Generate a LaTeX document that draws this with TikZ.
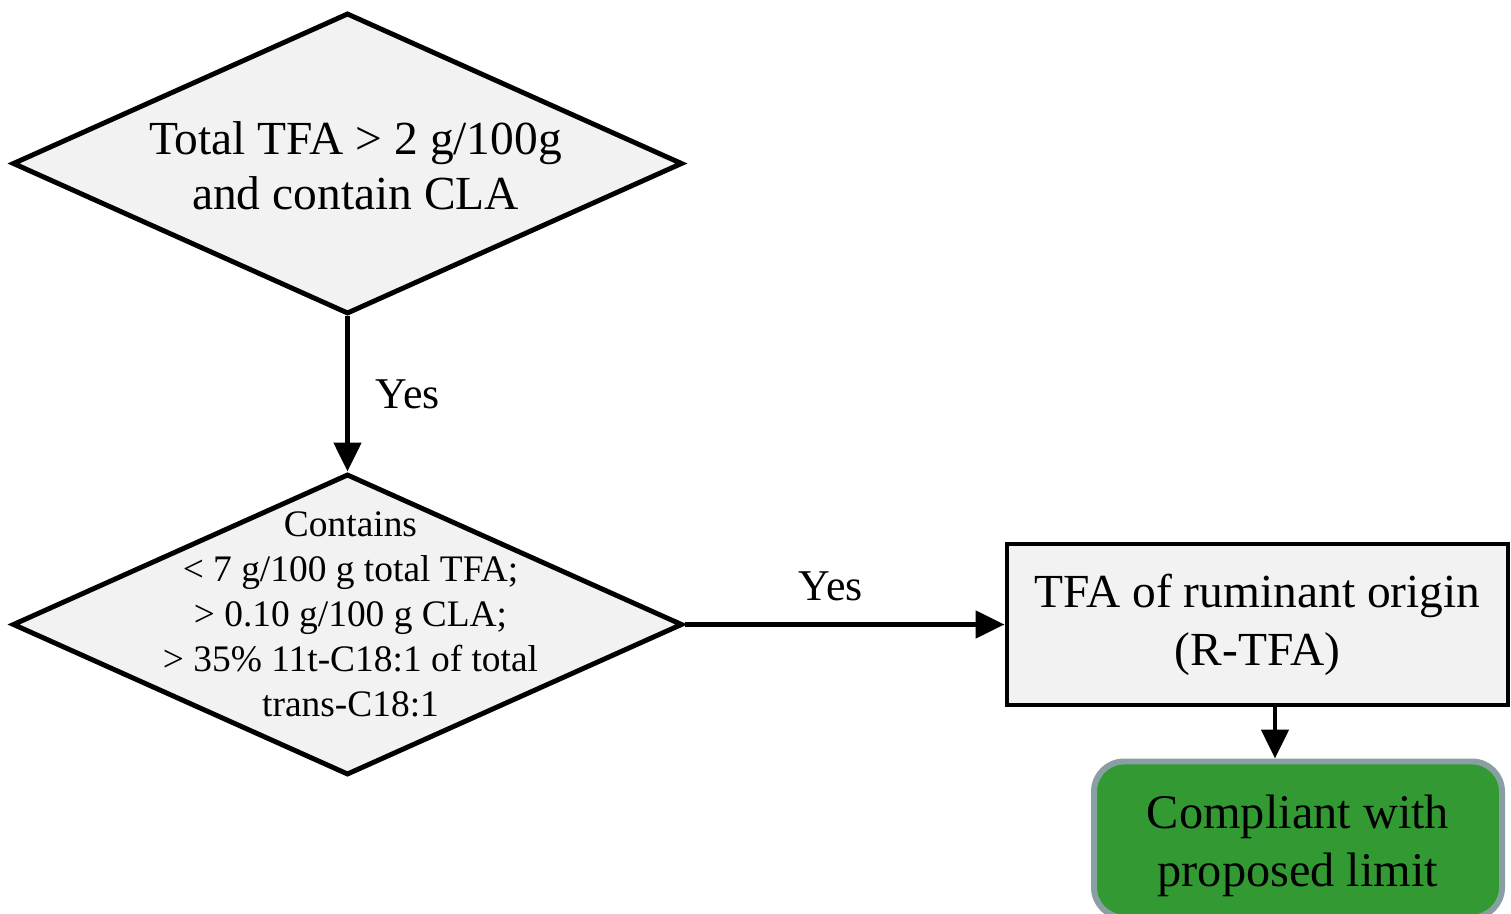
\documentclass[tikz,border=0pt]{standalone}
\usepackage{fontspec}
\setmainfont{Liberation Serif}
\usetikzlibrary{shapes.geometric, arrows.meta, positioning}
\definecolor{boxgray}{HTML}{F2F2F2}
\definecolor{okgreen}{HTML}{339933}
\definecolor{okedge}{HTML}{8A9FA4}
\tikzstyle{decision} = [diamond, draw=black, line width=2.8pt, fill=boxgray, minimum width=13.4cm, minimum height=6.02cm, inner sep=0pt]
\tikzstyle{bigtext} = [align=center, font=\fontsize{27}{31.5}\selectfont]
\tikzstyle{smalltext} = [align=center, font=\fontsize{21.3}{25.6}\selectfont]
\tikzstyle{process} = [rectangle, draw=black, line width=2.8pt, fill=boxgray, minimum width=10.02cm, minimum height=3.22cm, text centered, align=center, font=\fontsize{27}{33}\selectfont]
\tikzstyle{result} = [rectangle, rounded corners=0.6cm, draw=okedge, line width=3.4pt, fill=okgreen, minimum width=8.16cm, minimum height=3.12cm, text centered, align=center, font=\fontsize{27.5}{33}\selectfont]
\tikzstyle{answer} = [font=\fontsize{25}{29}\selectfont]
\tikzstyle{arrow} = [line width=2.8pt, -{Triangle[length=0.58cm,width=0.54cm]}]

\begin{document}
\begin{tikzpicture}[node distance=9.22cm]
    \useasboundingbox (0,0) rectangle (30.22,-18.28);
    \node (q1) [decision] at (6.95,-3.27) {};
    \node (q1text) [bigtext, xshift=0.16cm, yshift=-0.04cm] at (q1) {Total TFA > 2 g/100g\\and contain CLA};
    \node (q2) [decision, below of=q1] {};
    \node (q2text) [smalltext, above of=q2, node distance=0.2cm, xshift=0.06cm] {Contains\\< 7 g/100 g total TFA;\\> 0.10 g/100 g CLA;\\> 35\% 11t-C18:1 of total\\trans-C18:1};
    \node (rtfa) [process, right of=q2, node distance=18.2cm] {TFA of ruminant origin\\(R-TFA)};
    \node (comply) [result, below of=rtfa, node distance=4.3cm, xshift=0.81cm] {};
    \node (complytext) [align=center, font=\fontsize{27.5}{33}\selectfont, yshift=-0.12cm] at (comply) {Compliant with\\proposed limit};

    \draw [arrow] (q1) -- node [answer, anchor=west, xshift=0.4cm] {Yes} (q2);
    \draw [arrow] (q2) -- node [answer, anchor=south, yshift=0.3cm, xshift=-0.28cm] {Yes} (rtfa);
    \draw [arrow] ([xshift=0.35cm]rtfa.south) -- ([xshift=0.35cm]rtfa.south |- comply.north);
\end{tikzpicture}
\end{document}
